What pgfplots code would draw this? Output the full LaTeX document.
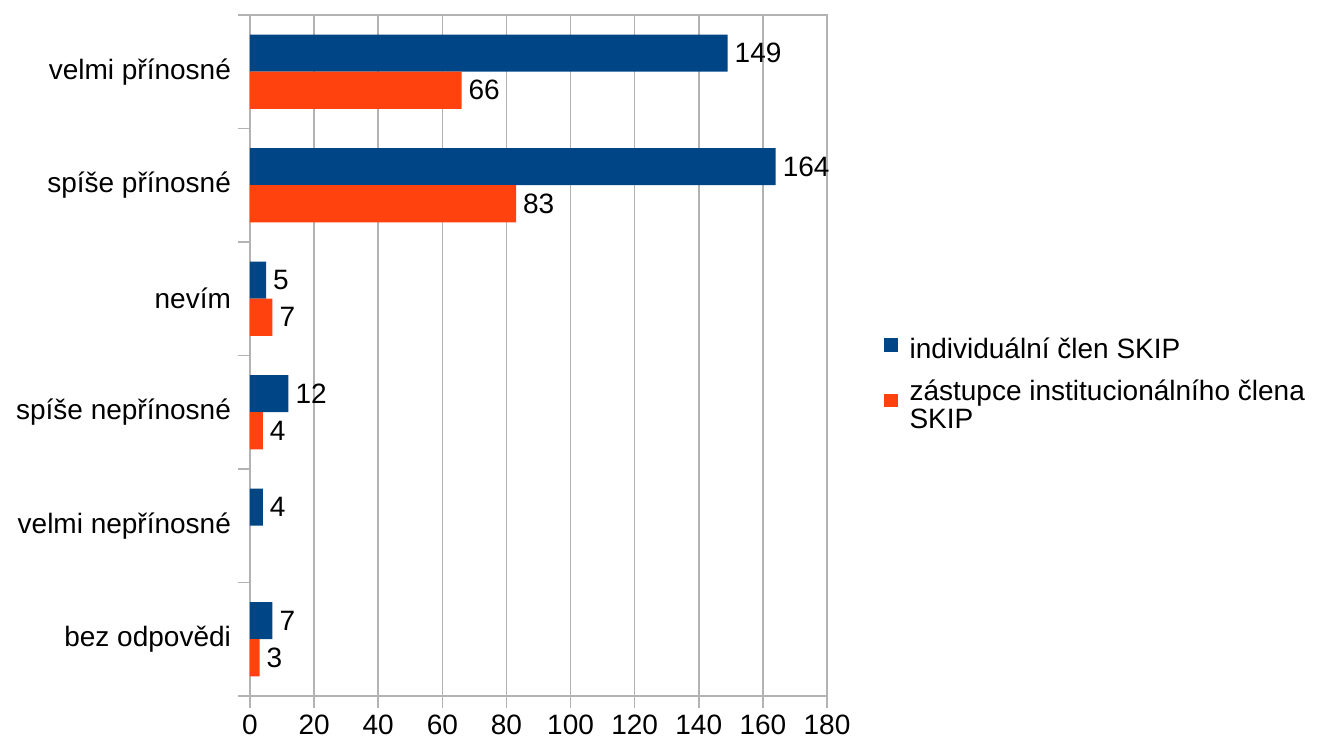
\documentclass[border=0pt]{standalone}
\usepackage{fontspec}
\setmainfont{Liberation Sans}
\usepackage{pgfplots}
\pgfplotsset{compat=1.18}
\definecolor{cblue}{HTML}{004586}
\definecolor{corange}{HTML}{FF420E}
\definecolor{gridc}{HTML}{B3B3B3}
\begin{document}
\begin{tikzpicture}
\begin{axis}[
  scale only axis,
  width=288.5pt, height=340.5pt,
  xbar,
  xmin=0, xmax=180,
  ymin=-0.5, ymax=5.5,
  xtick={0,20,...,180},
  xtick pos=lower,
  ytick={-0.5,0.5,...,5.5},
  yticklabels={},
  ytick pos=left,
  tick align=outside,
  major tick length=6pt,
  tick style={gridc, line width=0.8pt},
  extra y ticks={0,1,2,3,4,5},
  extra y tick labels={bez odpovědi,velmi nepřínosné,spíše nepřínosné,nevím,spíše přínosné,velmi přínosné},
  extra y tick style={tick style={draw=none}, ymajorgrids=false},
  xmajorgrids=true,
  ymajorgrids=false,
  grid style={gridc, line width=0.8pt},
  axis line style={gridc, line width=0.8pt},
  tick label style={font=\fontsize{14}{14}\selectfont, text=black},
  /pgf/number format/assume math mode=true,
  bar width=0.327,
  nodes near coords,
  nodes near coords style={font=\fontsize{14}{14}\selectfont, text=black, anchor=west},
  legend style={at={(1.098,0.457)}, anchor=west, draw=none, fill=none,
    font=\fontsize{14}{14}\selectfont, row sep=5pt, column sep=4pt, inner sep=0pt,
    cells={align=left, anchor=base west}},
  legend cell align=left,
  legend image code/.code={\fill[#1] (0pt,-0.8pt) rectangle (6.8pt,6pt);},
]
\addplot[fill=cblue, draw=none, bar shift=0.1635] coordinates {
  (149,5) (164,4) (5,3) (12,2) (4,1) (7,0)};
\addlegendentry{individuální člen SKIP}
\addplot[fill=corange, draw=none, bar shift=-0.1635] coordinates {
  (66,5) (83,4) (7,3) (4,2) (3,0)};
\addlegendentry{zástupce institucionálního člena\\SKIP}
\coordinate (O) at (rel axis cs:0,0);
\end{axis}
\pgfresetboundingbox
\path[use as bounding box] ([shift={(-125pt,-25.5pt)}]O) rectangle ([shift={(537.5pt,348pt)}]O);
\end{tikzpicture}
\end{document}
